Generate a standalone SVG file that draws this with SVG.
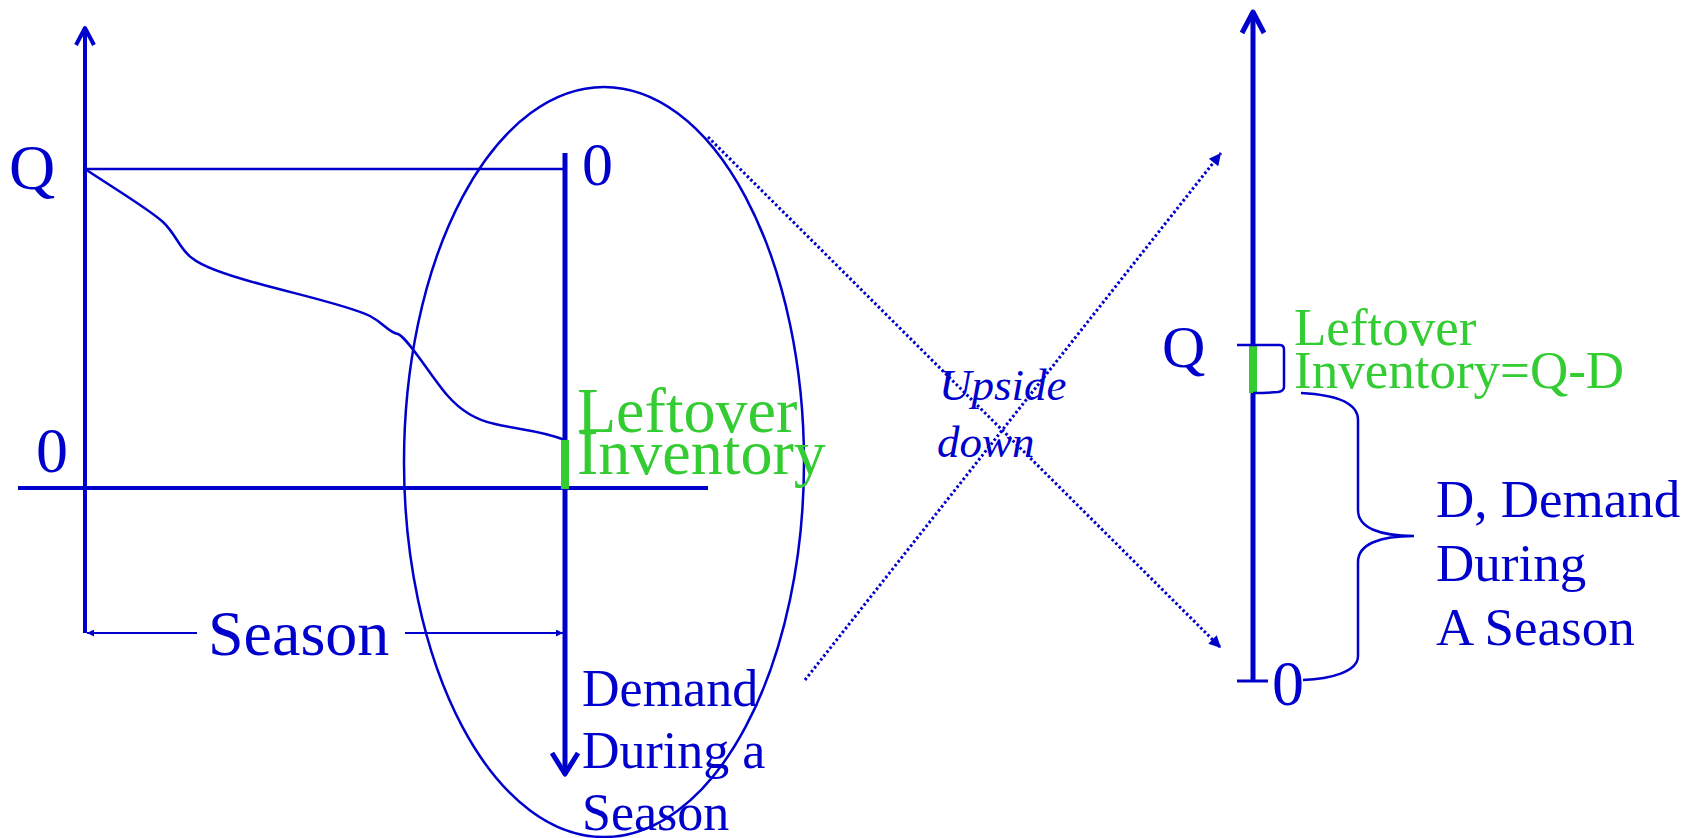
<svg xmlns="http://www.w3.org/2000/svg" width="1692" height="838" viewBox="0 0 1692 838">
<defs>
<style>
.blue{fill:#0000CC;}
.green{fill:#33CC33;}
.t{font-family:"Liberation Serif","Times New Roman",serif;}
.ln{stroke:#0000CC;fill:none;stroke-linecap:butt;}
.dot{stroke:#0000CC;fill:none;stroke-width:3;stroke-dasharray:2.5 2.5;}
</style>
<marker id="tri" viewBox="0 0 10 10" refX="10" refY="5" markerWidth="14" markerHeight="12" markerUnits="userSpaceOnUse" orient="auto">
<path d="M0,0 L10,5 L0,10 Z" fill="#0000CC"/>
</marker>
<marker id="small" viewBox="0 0 10 10" refX="10" refY="5" markerWidth="9" markerHeight="7" markerUnits="userSpaceOnUse" orient="auto">
<path d="M0,0 L10,5 L0,10 Z" fill="#0000CC"/>
</marker>
</defs>
<rect width="1692" height="838" fill="#ffffff"/>

<g id="left-graph">
<line class="ln" x1="85" y1="29" x2="85" y2="633" stroke-width="4"/>
<polyline class="ln" points="76,45 85,28 94,45" stroke-width="4" stroke-linecap="round" stroke-linejoin="round"/>
<line class="ln" x1="18" y1="488" x2="708" y2="488" stroke-width="4"/>
<line class="ln" x1="85" y1="169" x2="565" y2="169" stroke-width="2.5"/>
<path class="ln" stroke-width="2.5" d="M85,169 C120,192 150,210 163,222 C176,234 180,250 192,258 C204,268 230,276 260,284 C300,295 350,306 370,316 C385,324 388,332 398,334 C408,338 430,375 447,395 C460,410 475,420 495,424 C520,430 540,430 565,440"/>
<text class="t blue" x="9" y="189" font-size="64">Q</text>
<text class="t blue" x="36" y="472" font-size="64">0</text>
</g>

<g id="season">
<line class="ln" x1="197" y1="633" x2="87" y2="633" stroke-width="2" marker-end="url(#small)"/>
<line class="ln" x1="405" y1="633" x2="563" y2="633" stroke-width="2" marker-end="url(#small)"/>
<text class="t blue" x="208" y="655" font-size="64">Season</text>
</g>

<g id="ellipse">
<ellipse cx="604" cy="462" rx="200" ry="375" class="ln" stroke-width="2.5"/>
</g>

<g id="demand-axis">
<line class="ln" x1="565" y1="153" x2="565" y2="774" stroke-width="5"/>
<polyline class="ln" points="552,753 565,774 578,753" stroke-width="5" stroke-linecap="round" stroke-linejoin="round"/>
<line x1="565" y1="440" x2="565" y2="489" stroke="#33CC33" stroke-width="8"/>
<text class="t blue" x="582" y="185" font-size="62">0</text>
<text class="t green" x="577" y="432" font-size="64">Leftover</text>
<text class="t green" x="577" y="474" font-size="64">Inventory</text>
<text class="t blue" x="582" y="706" font-size="52">Demand</text>
<text class="t blue" x="582" y="768" font-size="52">During a</text>
<text class="t blue" x="582" y="830" font-size="52">Season</text>
</g>

<g id="connectors">
<line class="dot" x1="708" y1="137" x2="1221" y2="648" marker-end="url(#tri)"/>
<line class="dot" x1="805" y1="680" x2="1221" y2="153" marker-end="url(#tri)"/>
</g>

<g id="upside-down">
<text class="t blue" x="939" y="400" font-size="45" font-style="italic">Upside</text>
<text class="t blue" x="937" y="457" font-size="45" font-style="italic">down</text>
</g>

<g id="right-axis">
<line class="ln" x1="1253" y1="12" x2="1253" y2="681" stroke-width="5"/>
<polyline class="ln" points="1242,33 1253,12 1264,33" stroke-width="5" stroke-linecap="round" stroke-linejoin="round"/>
<line class="ln" x1="1237" y1="681" x2="1268" y2="681" stroke-width="3"/>
<line x1="1253" y1="345" x2="1253" y2="393" stroke="#33CC33" stroke-width="8"/>
<path class="ln" stroke-width="2.5" d="M1237,345 L1280,345 Q1284,345 1284,350 L1284,387 Q1284,391 1278,392 Q1265,393 1253,393"/>
<text class="t blue" x="1162" y="367" font-size="60">Q</text>
<text class="t blue" x="1272" y="705" font-size="64">0</text>
<text class="t green" x="1294" y="345" font-size="53">Leftover</text>
<text class="t green" x="1294" y="388" font-size="53">Inventory=Q-D</text>
</g>

<g id="demand-brace">
<path class="ln" stroke-width="2.5" d="M1301,393 C1340,395 1358,405 1358,420 L1358,510 C1358,528 1380,536 1414,536 C1380,536 1358,544 1358,562 L1358,656 C1358,672 1330,679 1303,680"/>
<text class="t blue" x="1436" y="517" font-size="53">D, Demand</text>
<text class="t blue" x="1436" y="581" font-size="53">During</text>
<text class="t blue" x="1436" y="645" font-size="53">A Season</text>
</g>
</svg>
